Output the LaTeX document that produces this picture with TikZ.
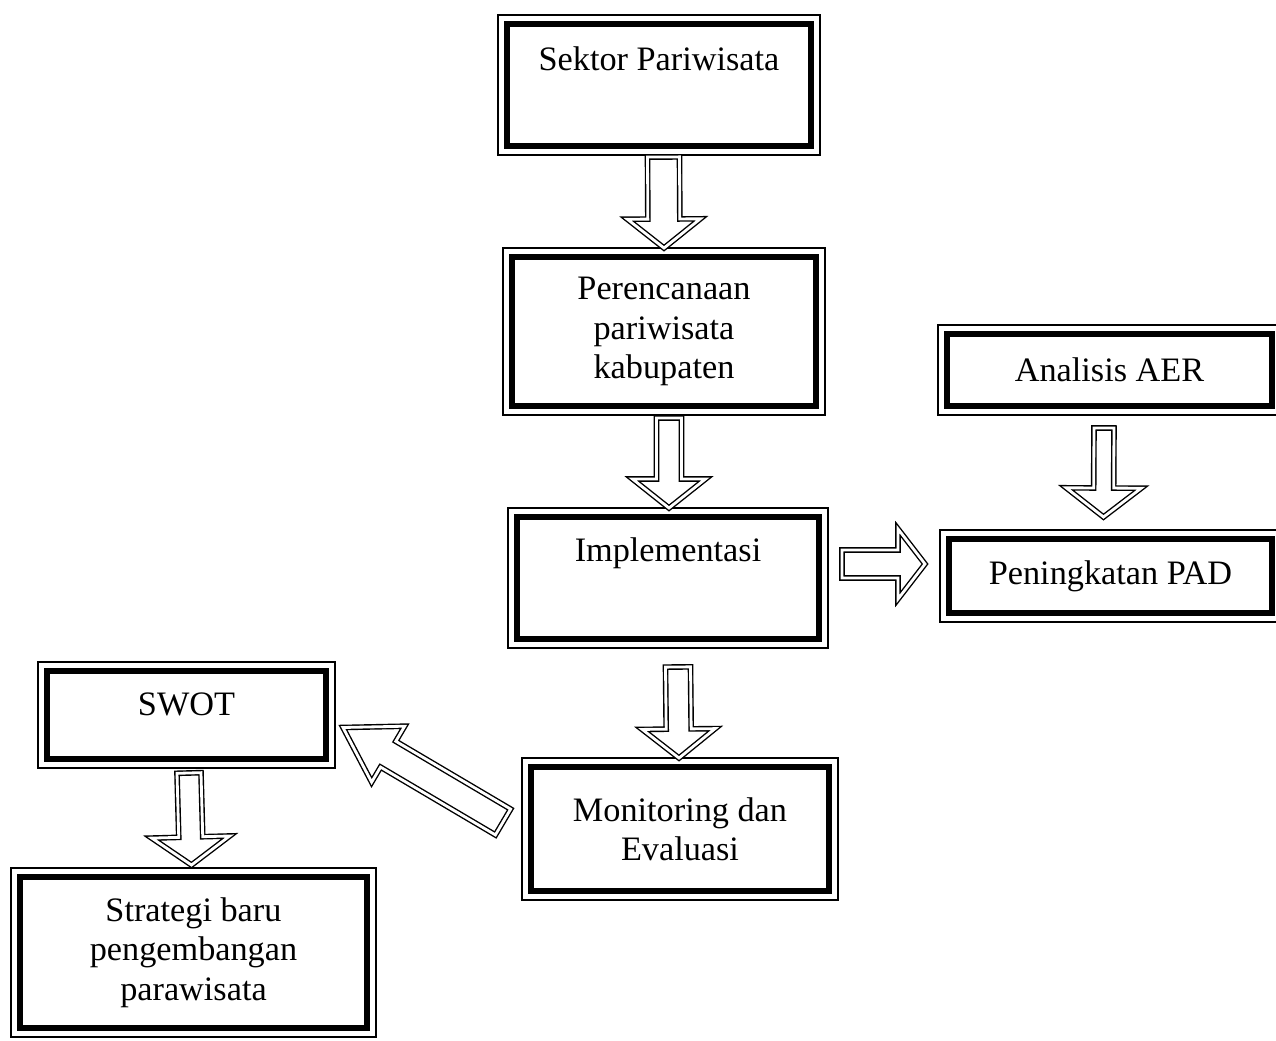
\documentclass[tikz,border=0pt]{standalone}
\usepackage{fontspec}
\setmainfont{Liberation Serif}
\usetikzlibrary{positioning,calc}

\newcommand{\hollowArrow}[5]{%
  \coordinate (hb) at ($(#2)!#5!(#1)$);
  \draw[arrowLine] ($(#1)!#3!90:(#2)$) -- ($(hb)!#3!90:(#2)$) -- ($(hb)!#4!90:(#2)$) -- (#2)
    -- ($(hb)!#4!-90:(#2)$) -- ($(hb)!#3!-90:(#2)$) -- ($(#1)!#3!-90:(#2)$) -- cycle;
}

\begin{document}
\begin{tikzpicture}[
    x=0.02cm, y=0.02cm,
    flowBox/.style={rectangle, draw=black, line width=1.1pt, fill=white, outer sep=0pt, align=center, font=\fontsize{19.5}{22.4}\selectfont},
    thickRim/.style={draw=black, line width=3.4pt},
    arrowLine/.style={draw=black, double=white, double distance=1.6pt, line width=0.8pt, line join=miter}
]
    \useasboundingbox (0,0) rectangle (1276,-1041);

    \node[flowBox, minimum width=6.44cm, minimum height=2.8cm, text depth=30pt] (sektor) at (659,-85) {Sektor Pariwisata};
    \node[flowBox, minimum width=6.44cm, minimum height=3.34cm] (peren) at (664,-331.5) {Perencanaan\\pariwisata\\kabupaten};
    \node[flowBox, minimum width=6.4cm, minimum height=2.8cm, text depth=32.7pt] (impl) at (668,-578) {Implementasi};
    \node[flowBox, minimum width=6.32cm, minimum height=2.84cm] (monev) at (680,-829) {Monitoring dan\\Evaluasi};
    \node[flowBox, minimum width=6.86cm, minimum height=1.8cm] (aer) at (1109.5,-370) {Analisis AER};
    \node[flowBox, minimum width=6.82cm, minimum height=1.84cm] (pad) at (1110.5,-576) {Peningkatan PAD};
    \node[flowBox, minimum width=5.94cm, minimum height=2.12cm, text depth=12.5pt] (swot) at (186.5,-715) {SWOT};
    \node[flowBox, minimum width=7.3cm, minimum height=3.38cm] (strat) at (193.5,-952.5) {Strategi baru\\pengembangan\\parawisata};

    \foreach \n in {sektor,peren,impl,monev,aer,pad,swot,strat}
        \draw[thickRim] ($(\n.north west)+(9,-9)$) rectangle ($(\n.south east)+(-9,9)$);

    \coordinate (sektorOut) at ($(sektor.south)+(4.5,-2)$);
    \coordinate (perenIn) at (peren.north);
    \coordinate (perenOut) at ($(peren.south)+(5,-3)$);
    \coordinate (implIn) at ($(impl.north)+(1,0)$);
    \coordinate (implOut) at ($(impl.south)+(10,-19)$);
    \coordinate (monevIn) at ($(monev.north)+(-1,0)$);
    \coordinate (implRight) at ($(impl.east)+(14,14)$);
    \coordinate (padLeft) at ($(pad.west)+(-15,12)$);
    \coordinate (aerOut) at ($(aer.south)+(-5.5,-13)$);
    \coordinate (padIn) at ($(pad.north)+(-7,13)$);
    \coordinate (monevOut) at ($(monev.west)+(-19,7)$);
    \coordinate (swotIn) at ($(swot.east)+(8,-12.5)$);
    \coordinate (swotOut) at ($(swot.south)+(2.5,-5)$);
    \coordinate (stratIn) at ($(strat.north)+(-2,3)$);

    \hollowArrow{sektorOut}{perenIn}{0.32cm}{0.73cm}{0.58cm}
    \hollowArrow{perenOut}{implIn}{0.25cm}{0.73cm}{0.58cm}
    \hollowArrow{implOut}{monevIn}{0.25cm}{0.73cm}{0.58cm}
    \hollowArrow{implRight}{padLeft}{0.28cm}{0.7cm}{0.54cm}
    \hollowArrow{aerOut}{padIn}{0.2cm}{0.75cm}{0.58cm}
    \hollowArrow{monevOut}{swotIn}{0.3cm}{0.65cm}{1.05cm}
    \hollowArrow{swotOut}{stratIn}{0.24cm}{0.78cm}{0.56cm}
\end{tikzpicture}
\end{document}
